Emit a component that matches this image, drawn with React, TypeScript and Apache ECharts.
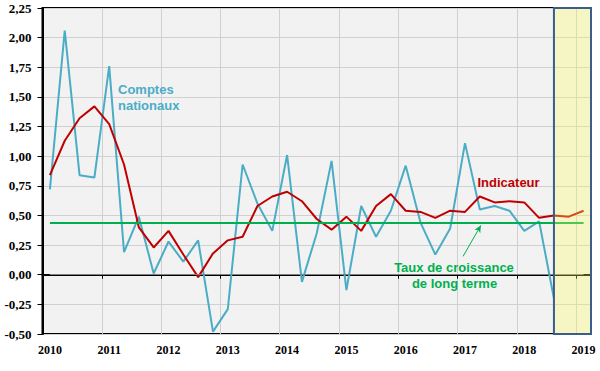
import React, { useEffect, useRef } from "react";
import * as echarts from "echarts";

const quarters: string[] = [
  "2010T1", "2010T2", "2010T3", "2010T4",
  "2011T1", "2011T2", "2011T3", "2011T4",
  "2012T1", "2012T2", "2012T3", "2012T4",
  "2013T1", "2013T2", "2013T3", "2013T4",
  "2014T1", "2014T2", "2014T3", "2014T4",
  "2015T1", "2015T2", "2015T3", "2015T4",
  "2016T1", "2016T2", "2016T3", "2016T4",
  "2017T1", "2017T2", "2017T3", "2017T4",
  "2018T1", "2018T2", "2018T3", "2018T4",
  "2019T1",
];

const comptesNationaux: number[] = [
  0.72, 2.06, 0.84, 0.82,
  1.76, 0.19, 0.49, 0.01,
  0.28, 0.11, 0.29, -0.48,
  -0.29, 0.93, 0.6, 0.37,
  1.01, -0.06, 0.35, 0.96,
  -0.13, 0.58, 0.32, 0.54,
  0.92, 0.44, 0.17, 0.39,
  1.11, 0.55, 0.58, 0.54,
  0.37, 0.45, -0.2,
];

const indicateur: number[] = [
  0.84, 1.13, 1.32, 1.42,
  1.27, 0.93, 0.4, 0.23,
  0.37, 0.17, -0.02, 0.18,
  0.29, 0.32, 0.58, 0.66,
  0.7, 0.62, 0.47, 0.38,
  0.49, 0.37, 0.58, 0.68,
  0.54, 0.53, 0.48, 0.54,
  0.53, 0.66, 0.61, 0.62,
  0.61, 0.48, 0.5, 0.49,
  0.54,
];

const longTermRate = 0.44;
const yTicks = { min: -0.5, max: 2.25, interval: 0.25 };
// forecast zone, in quarter-band units (starts at the centre of 2018T3)
const forecastStart = 34.5;
const forecastEnd = 37;
// annotation arrow, in quarter-band units / values
const arrowFrom: [number, number] = [28.37, 0.155];
const arrowTo: [number, number] = [29.57, 0.416];

const BLUE = "#4bacc6";
const RED = "#c00000";
const GREEN = "#00b050";

export default function App() {
  const ref = useRef<HTMLDivElement>(null);

  useEffect(() => {
    document.body.style.margin = "0";
    if (!ref.current) return;
    const chart = echarts.init(ref.current, undefined, { renderer: "svg" });
    const serif = "Liberation Serif";
    const sans = "Liberation Sans";
    const lastIdx = quarters.length - 1;

    chart.setOption({
      animation: false,
      backgroundColor: "#ffffff",
      grid: {
        left: 42.5,
        right: 9,
        top: 8,
        bottom: 37,
        show: true,
        backgroundColor: "#f2f2f2",
        borderColor: "#000000",
        borderWidth: 2,
      },
      xAxis: [
        {
          type: "category",
          data: quarters,
          boundaryGap: true,
          axisLine: { lineStyle: { color: "#000", width: 2 } },
          axisTick: { show: true, interval: 3, length: 4, lineStyle: { color: "#000" } },
          axisLabel: {
            interval: 3,
            margin: 10,
            color: "#000",
            fontFamily: serif,
            fontWeight: "bold",
            fontSize: 12,
            formatter: (v: string) => v.slice(0, 4),
          },
          splitLine: { show: true, interval: 3, lineStyle: { color: "#d0d0d0", width: 1 } },
        },
        {
          type: "value",
          min: 0,
          max: forecastEnd,
          show: false,
        },
      ],
      yAxis: {
        type: "value",
        min: yTicks.min,
        max: yTicks.max,
        interval: yTicks.interval,
        axisLine: { show: true, lineStyle: { color: "#000", width: 2 } },
        axisTick: { show: true, length: 5, lineStyle: { color: "#000" } },
        axisLabel: {
          margin: 11,
          color: "#000",
          fontFamily: serif,
          fontWeight: "bold",
          fontSize: 13,
          formatter: (v: number) => v.toFixed(2).replace(".", ","),
        },
        splitLine: { show: true, lineStyle: { color: "#d0d0d0", width: 1 } },
      },
      series: [
        {
          name: "Comptes nationaux",
          type: "line",
          data: comptesNationaux,
          showSymbol: false,
          lineStyle: { color: BLUE, width: 2 },
          itemStyle: { color: BLUE },
          z: 3,
        },
        {
          name: "Indicateur",
          type: "line",
          data: indicateur,
          showSymbol: false,
          lineStyle: { color: RED, width: 2 },
          itemStyle: { color: RED },
          z: 4,
          markLine: {
            silent: true,
            symbol: ["none", "none"],
            label: { show: false },
            data: [
              [
                { coord: [0, 0], lineStyle: { color: "#808080", width: 1, type: "solid" } },
                { coord: [lastIdx, 0] },
              ],
              [
                { coord: [0, longTermRate], lineStyle: { color: GREEN, width: 2, type: "solid" } },
                { coord: [lastIdx, longTermRate] },
              ],
            ],
          },
        },
        {
          name: "zone",
          type: "line",
          xAxisIndex: 1,
          yAxisIndex: 0,
          data: [],
          showSymbol: false,
          silent: true,
          z: 10,
          markArea: {
            silent: true,
            z: 10,
            itemStyle: {
              color: "rgba(255,252,89,0.3)",
              borderColor: "#3a5d8c",
              borderWidth: 2,
            },
            data: [
              [
                { xAxis: forecastStart, yAxis: yTicks.min },
                { xAxis: forecastEnd, yAxis: yTicks.max },
              ],
            ],
          },
          markLine: {
            silent: true,
            symbol: ["none", "arrow"],
            symbolSize: [5, 7],
            label: { show: false },
            lineStyle: { color: GREEN, width: 1, type: "solid" },
            data: [[{ coord: arrowFrom }, { coord: arrowTo }]],
          },
        },
      ],
      graphic: [
        {
          type: "text",
          x: 118,
          y: 89.5,
          z: 20,
          style: { text: "Comptes", fill: BLUE, fontFamily: sans, fontWeight: "bold", fontSize: 13, textVerticalAlign: "middle" },
        },
        {
          type: "text",
          x: 118,
          y: 105.5,
          z: 20,
          style: { text: "nationaux", fill: BLUE, fontFamily: sans, fontWeight: "bold", fontSize: 13, textVerticalAlign: "middle" },
        },
        {
          type: "text",
          x: 477.5,
          y: 182,
          z: 20,
          style: { text: "Indicateur", fill: RED, fontFamily: sans, fontWeight: "bold", fontSize: 13, textVerticalAlign: "middle" },
        },
        {
          type: "text",
          x: 454,
          y: 267,
          z: 20,
          style: {
            text: "Taux de croissance",
            fill: GREEN,
            fontFamily: sans,
            fontWeight: "bold",
            fontSize: 13,
            textAlign: "center",
            textVerticalAlign: "middle",
          },
        },
        {
          type: "text",
          x: 454.5,
          y: 283,
          z: 20,
          style: {
            text: "de long terme",
            fill: GREEN,
            fontFamily: sans,
            fontWeight: "bold",
            fontSize: 13,
            textAlign: "center",
            textVerticalAlign: "middle",
          },
        },
      ],
    });

    return () => chart.dispose();
  }, []);

  return <div ref={ref} style={{ width: 600, height: 371 }} />;
}
